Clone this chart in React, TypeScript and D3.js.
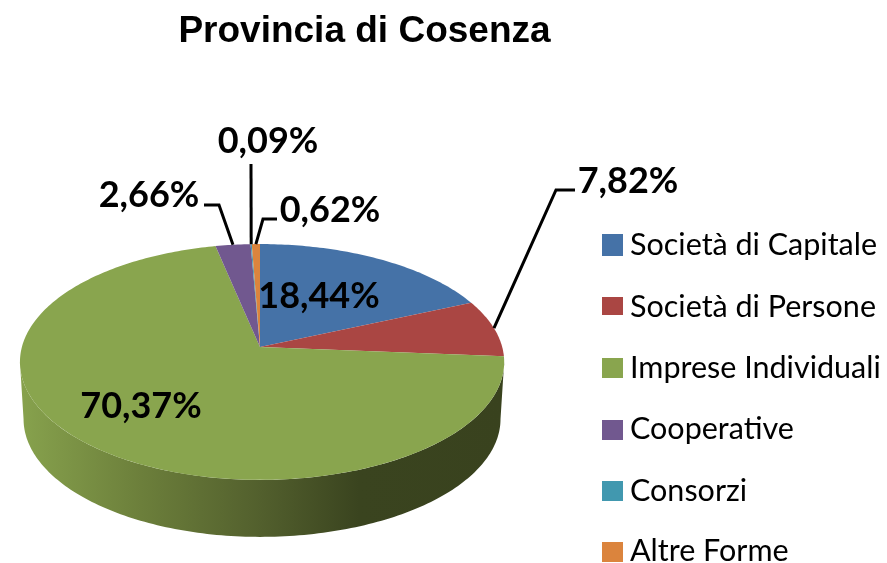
import React from "react";
import * as d3 from "d3";

const categories = ["Società di Capitale", "Società di Persone", "Imprese Individuali", "Cooperative", "Consorzi", "Altre Forme"];
const values = [18.44, 7.82, 70.37, 2.66, 0.09, 0.62];
const labels = ["18,44%", "7,82%", "70,37%", "2,66%", "0,09%", "0,62%"];
const colors = ["#4572A7", "#AA4643", "#89A54E", "#71588F", "#4198AF", "#DB843D"];
const title = "Provincia di Cosenza";

const W = 887, H = 563;
const CX = 260, CY = 347, A = 241, B = 116, P = 0.127, DEPTH = 57;

// perspective projection of a point on the unit disc at pie angle a (clockwise from top)
const proj = (a: number, r = 1, dy = 0, sx = 1): [number, number] => {
  const u = r * Math.sin(a), v = -r * Math.cos(a), w = 1 - P * v;
  const side = u < 0 ? 0.988 : 1.005;
  return [CX + (side * sx * A * u) / w, CY + dy + (B * v) / w];
};
const line = d3.line<[number, number]>();
const pie = d3.pie<number>().sort(null).value((d) => d)(values);

const slicePath = (s: { startAngle: number; endAngle: number }) => {
  const n = Math.max(2, Math.ceil((s.endAngle - s.startAngle) * 60));
  const pts: [number, number][] = [[CX, CY]];
  d3.range(n + 1).forEach((i) => pts.push(proj(s.startAngle + ((s.endAngle - s.startAngle) * i) / n)));
  return line(pts) + "Z";
};

const extreme = Math.acos(-P); // angle where the outline is widest
const rimAngles = d3.range(0, 161).map((i) => extreme + ((2 * Math.PI - 2 * extreme) * i) / 160);
const sidePath =
  line([...rimAngles.map((a) => proj(a)), ...rimAngles.slice().reverse().map((a) => proj(a, 1, DEPTH, 0.985))]) + "Z";

const mid = (i: number) => (pie[i].startAngle + pie[i].endAngle) / 2;

const LBL = "Lato, 'Open Sans', sans-serif";

// leader lines: [label index, elbow points], the last point comes from the slice itself
const leaders: [number, [number, number][]][] = [
  [1, [[575, 190], [556, 190]]],
  [3, [[204, 205], [219, 205]]],
  [4, [[251, 164]]],
  [5, [[277, 219], [263, 219]]],
];
const labelPos: [number, number][] = [
  [319, 308],
  [628, 193],
  [141, 418],
  [149, 207],
  [268, 153],
  [330, 222],
];
const legendBase = [255, 317, 378, 439, 501, 561];
const swatchTop = [234, 297, 358, 420, 481, 542];
const swatchH = [22, 18, 20, 20, 20, 20];

export default function App() {
  return (
    <svg width={W} height={H} viewBox={`0 0 ${W} ${H}`} style={{ position: "absolute", left: 0, top: 0, background: "#fff" }}>
      <defs>
        <linearGradient id="side" gradientUnits="userSpaceOnUse" x1={20} x2={504} y1={0} y2={0}>
          <stop offset="0" stopColor="#87A24D" />
          <stop offset="0.25" stopColor="#6C7F3B" />
          <stop offset="0.5" stopColor="#525F2D" />
          <stop offset="0.7" stopColor="#3A441F" />
          <stop offset="1" stopColor="#39421E" />
        </linearGradient>
        <filter id="soft" x="-5%" y="-5%" width="110%" height="110%">
          <feGaussianBlur stdDeviation="0.7" />
        </filter>
      </defs>
      <path d={sidePath} fill="url(#side)" />
      {pie.map((s, i) => (
        <path key={i} d={slicePath(s)} fill={colors[i]} />
      ))}
      <g filter="url(#soft)">
        <text x={364.5} y={42} textAnchor="middle" fontFamily="'Liberation Sans', Arial, sans-serif" fontWeight={700} fontSize={37} fill="#000">
          {title}
        </text>
        {leaders.map(([i, pts]) => (
          <path key={i} d={line([...pts, proj(mid(i))]) || ""} fill="none" stroke="#000" strokeWidth={3} />
        ))}
        {labels.map((t, i) => (
          <text key={i} x={labelPos[i][0]} y={labelPos[i][1]} textAnchor="middle" fontFamily={LBL} fontWeight={700} fontSize={36} fill="#000">
            {t}
          </text>
        ))}
        {categories.map((c, i) => (
          <text key={i} x={630} y={legendBase[i]} fontFamily={LBL} fontSize={30.5} fill="#000">
            {c}
          </text>
        ))}
      </g>
      {categories.map((c, i) => (
        <rect key={i} x={602} y={swatchTop[i]} width={21} height={swatchH[i]} fill={colors[i]} />
      ))}
    </svg>
  );
}
